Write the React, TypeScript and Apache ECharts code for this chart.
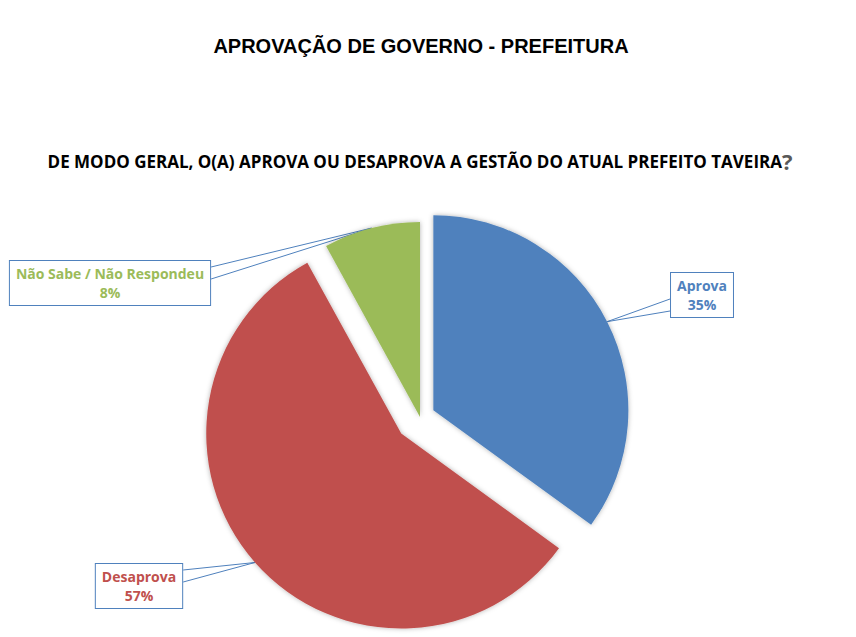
import React, { useEffect, useRef } from "react";
import * as echarts from "echarts";

const TITLE = "APROVAÇÃO DE GOVERNO - PREFEITURA";
const QUESTION = "DE MODO GERAL, O(A) APROVA OU DESAPROVA A GESTÃO DO ATUAL PREFEITO TAVEIRA";
const CATEGORIES = ["Aprova", "Desaprova", "Não Sabe / Não Respondeu"];
const VALUES = [35, 57, 8];

const COLORS = ["#4F81BD", "#C0504D", "#9BBB59"];
const EXPLODE = [15, 25, 0];
const LABEL_CENTERS = [
  [702, 295],
  [139, 586],
  [110, 283],
];
const PIE_CENTER = [420, 417];
const PIE_RADIUS = 195;

export default function App() {
  const ref = useRef<HTMLDivElement>(null);

  useEffect(() => {
    if (!ref.current) return;
    const chart = echarts.init(ref.current, null, { renderer: "svg" });

    const total = VALUES.reduce((a, b) => a + b, 0);
    let acc = 0;
    const centers = VALUES.map((v, i) => {
      const mid = ((acc + v / 2) / total) * Math.PI * 2;
      acc += v;
      return [
        PIE_CENTER[0] + Math.sin(mid) * EXPLODE[i],
        PIE_CENTER[1] - Math.cos(mid) * EXPLODE[i],
      ];
    });

    const series = CATEGORIES.map((_, i) => ({
      type: "pie",
      center: centers[i],
      radius: PIE_RADIUS,
      startAngle: 90,
      clockwise: true,
      silent: true,
      emphasis: { disabled: true },
      avoidLabelOverlap: false,
      z: 2 + i,
      itemStyle: { borderWidth: 0 },
      label: {
        show: true,
        position: "outside",
        formatter: "{n|{b}}\n{p|{c}%}",
        backgroundColor: "#ffffff",
        borderColor: "#4F81BD",
        borderWidth: 1,
        padding: [3, 6, 3, 6],
      },
      labelLine: {
        show: true,
        lineStyle: { color: "#4F81BD", width: 1 },
      },
      labelLayout: (p: any) => {
        const c = LABEL_CENTERS[p.dataIndex];
        const cx = c[0];
        const cy = c[1];
        const res: any = { x: cx, y: cy, align: "center", verticalAlign: "middle" };
        const w = p.labelRect.width;
        const tip = p.labelLinePoints ? p.labelLinePoints[0] : null;
        if (tip) {
          const edgeX = tip[0] > cx ? cx + w / 2 : cx - w / 2;
          const yb = cy + (tip[1] > cy ? 10 : -10);
          res.labelLinePoints = [
            [edgeX, yb - 6],
            [tip[0], tip[1]],
            [edgeX, yb + 6],
          ];
        }
        return res;
      },
      data: CATEGORIES.map((name, j) => {
        const visible = j === i;
        const txt = {
          fontFamily: "Open Sans",
          fontWeight: "bold",
          fontSize: 14,
          lineHeight: 19,
          color: COLORS[j],
          align: "center",
        };
        return {
          name,
          value: VALUES[j],
          itemStyle: visible
            ? { color: COLORS[j], shadowBlur: 5, shadowColor: "rgba(0,0,0,0.3)" }
            : { color: "rgba(0,0,0,0)" },
          label: { show: visible, rich: { n: txt, p: txt } },
          labelLine: { show: visible },
        };
      }),
    }));

    chart.setOption({
      animation: false,
      backgroundColor: "#ffffff",
      graphic: [
        {
          type: "text",
          x: 421,
          y: 46,
          style: {
            text: TITLE,
            font: 'bold 20px "Liberation Sans", Arial, sans-serif',
            fill: "#000000",
            align: "center",
            verticalAlign: "middle",
          },
        },
        {
          type: "text",
          x: 420,
          y: 161,
          style: {
            text: "{a|" + QUESTION + "}{q|?}",
            align: "center",
            verticalAlign: "middle",
            rich: {
              a: {
                fontFamily: "Open Sans",
                fontWeight: "bold",
                fontSize: 17,
                fill: "#000000",
                color: "#000000",
              },
              q: {
                fontFamily: "Open Sans",
                fontWeight: "bold",
                fontSize: 22,
                fill: "#595959",
                color: "#595959",
              },
            },
          },
        },
      ],
      series,
    });

    return () => {
      chart.dispose();
    };
  }, []);

  return (
    <div
      ref={ref}
      style={{ position: "fixed", left: 0, top: 0, width: 856, height: 637 }}
    />
  );
}
